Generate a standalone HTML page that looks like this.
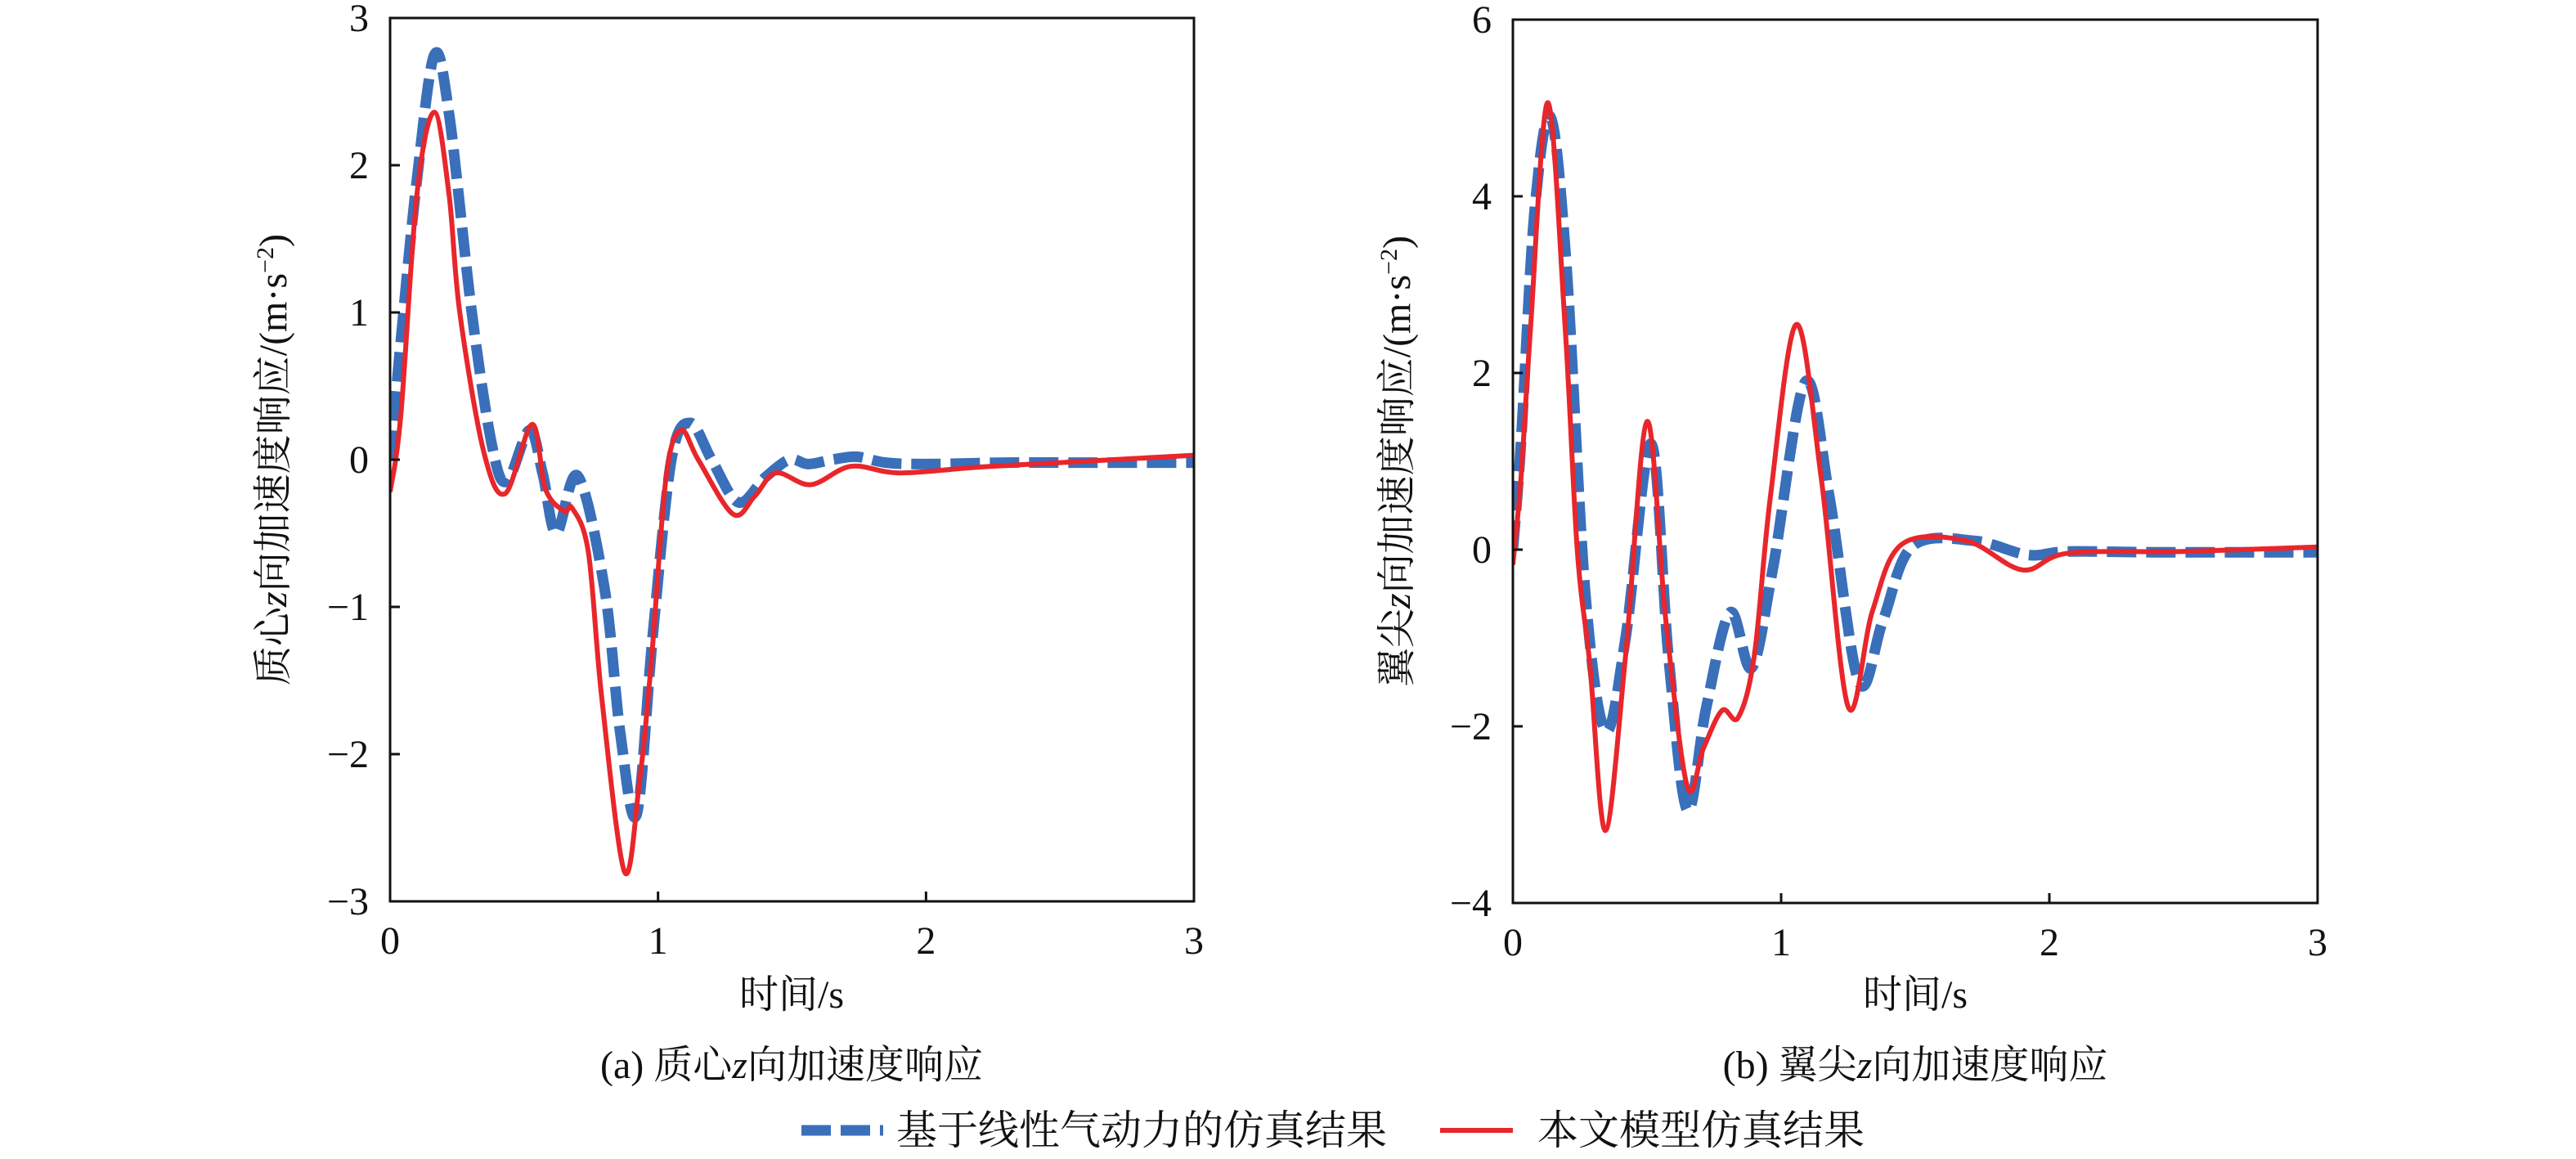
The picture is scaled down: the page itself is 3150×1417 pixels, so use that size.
<!DOCTYPE html>
<html><head><meta charset="utf-8"><style>
html,body{margin:0;padding:0;background:#fff;}
svg{display:block;}
text{font-family:"Liberation Serif","Noto Serif CJK SC","Noto Sans CJK SC",serif;fill:#111;}
</style></head><body>
<svg id="chart" width="3150" height="1417" viewBox="0 0 3150 1417" xmlns="http://www.w3.org/2000/svg">
<g id="pa"></g>
<g id="pb"></g>
<g>
  <line x1="980" y1="1382" x2="1080" y2="1382" stroke="#3a6fba" stroke-width="13" stroke-dasharray="36 12"/>
  <text x="1096" y="1399" font-size="50">基于线性气动力的仿真结果</text>
  <line x1="1761" y1="1382" x2="1850" y2="1382" stroke="#e8262b" stroke-width="6"/>
  <text x="1880" y="1399" font-size="50">本文模型仿真结果</text>
</g>
</svg>
<script>
// Panel (a) data
const aXTicks=[0,1,2,3];
const aYTicks=[-3,-2,-1,0,1,2,3];
const aBlueX=[0,0.05,0.1,0.165,0.22,0.305,0.38,0.435,0.52,0.57,0.62,0.70,0.80,0.86,0.92,0.98,1.05,1.12,1.2,1.30,1.40,1.49,1.56,1.65,1.74,1.85,2.0,2.3,2.6,3.0];
const aBlueY=[0,1.0,1.9,2.75,2.35,1.0,0.1,-0.15,0.2,-0.1,-0.50,-0.11,-0.87,-1.87,-2.41,-1.2,0.0,0.25,0.0,-0.29,-0.12,0.0,-0.03,0.0,0.02,-0.02,-0.03,-0.02,-0.02,-0.02];
const aRedX=[0,0.04,0.1,0.165,0.22,0.26,0.35,0.43,0.53,0.58,0.65,0.68,0.74,0.79,0.875,0.93,0.975,1.03,1.085,1.15,1.28,1.36,1.44,1.57,1.72,1.9,2.2,2.5,3.0];
const aRedY=[-0.22,0.3,1.8,2.36,1.8,1.0,0.05,-0.23,0.24,-0.2,-0.35,-0.33,-0.63,-1.62,-2.80,-2.2,-1.37,-0.12,0.2,0.0,-0.37,-0.25,-0.09,-0.17,-0.045,-0.09,-0.05,-0.02,0.03];
// Panel (b) data
const bXTicks=[0,1,2,3];
const bYTicks=[-4,-2,0,2,4,6];
const bBlueX=[0,0.03,0.08,0.14,0.2,0.27,0.345,0.42,0.515,0.58,0.65,0.72,0.81,0.89,0.97,1.09,1.18,1.29,1.38,1.49,1.72,1.92,2.07,2.4,3.0];
const bBlueY=[0,1.2,3.8,4.9,3.2,-0.5,-2.05,-1.0,1.2,-1.2,-2.95,-1.8,-0.71,-1.34,-0.2,1.9,0.6,-1.5,-0.8,0.04,0.10,-0.06,-0.02,-0.03,-0.03];
const bRedX=[0,0.03,0.065,0.13,0.195,0.24,0.287,0.345,0.42,0.50,0.57,0.65,0.71,0.78,0.84,0.9,0.96,1.057,1.15,1.25,1.34,1.45,1.69,1.90,2.07,2.5,3.0];
const bRedY=[-0.17,0.8,2.47,5.06,2.5,0,-1.3,-3.18,-1.2,1.45,-0.8,-2.68,-2.25,-1.82,-1.90,-1.2,0.6,2.55,0.8,-1.78,-0.7,0.06,0.10,-0.23,-0.04,-0.02,0.03];

const NS='http://www.w3.org/2000/svg';
function mk(tag,attrs,parent){const e=document.createElementNS(NS,tag);for(const k in attrs)e.setAttribute(k,attrs[k]);parent.appendChild(e);return e;}
function path(xs,ys,sx,sy){
  const p=xs.map((x,i)=>[sx(x),sy(ys[i])]);
  let d='M'+p[0][0].toFixed(1)+','+p[0][1].toFixed(1);
  for(let i=0;i<p.length-1;i++){
    const p0=p[Math.max(0,i-1)],p1=p[i],p2=p[i+1],p3=p[Math.min(p.length-1,i+2)];
    const t=6;
    const c1=[p1[0]+(p2[0]-p0[0])/t,p1[1]+(p2[1]-p0[1])/t];
    const c2=[p2[0]-(p3[0]-p1[0])/t,p2[1]-(p3[1]-p1[1])/t];
    c1[0]=Math.min(Math.max(c1[0],p1[0]),p2[0]);c2[0]=Math.min(Math.max(c2[0],p1[0]),p2[0]);
    d+=' C'+c1[0].toFixed(1)+','+c1[1].toFixed(1)+' '+c2[0].toFixed(1)+','+c2[1].toFixed(1)+' '+p2[0].toFixed(1)+','+p2[1].toFixed(1);
  }
  return d;
}
function addParts(t,parts){
  parts.forEach(pt=>{
    const s=mk('tspan',{},t);
    if(pt.i){s.setAttribute('font-style','italic');s.setAttribute('font-family','Liberation Serif, serif');}
    if(pt.sup){s.setAttribute('baseline-shift','super');s.setAttribute('font-size','30');}
    s.textContent=pt.s;
  });
}
function panel(g,L,R,T,B,ymin,ymax,xt,yt,bx,by,rx,ry,titleX,yParts,capParts,cx){
  const sx=x=>L+(x-0)/3*(R-L);
  const sy=y=>B-(y-ymin)/(ymax-ymin)*(B-T);
  const clipId='clip'+g.id;
  const cp=mk('clipPath',{id:clipId},g);mk('rect',{x:L,y:T,width:R-L,height:B-T},cp);
  let e;
  e=mk('path',{d:path(bx,by,sx,sy),fill:'none',stroke:'#3a6fba','stroke-width':13,'stroke-dasharray':'36 12','clip-path':'url(#'+clipId+')'},g);
  
  
  e=mk('path',{d:path(rx,ry,sx,sy),fill:'none',stroke:'#e8262b','stroke-width':6,'stroke-linejoin':'round','clip-path':'url(#'+clipId+')'},g);
  
  
  e=mk('rect',{x:L,y:T,width:R-L,height:B-T,fill:'none',stroke:'#111','stroke-width':3},g);
  
  
  xt.forEach(v=>{
    e=mk('line',{x1:sx(v),x2:sx(v),y1:B,y2:B-12,stroke:'#111','stroke-width':3},g);
    
    
    e=mk('text',{x:sx(v),y:B+64,'font-size':48,'text-anchor':'middle'},g);e.textContent=String(v);
    
    
  });
  yt.forEach(v=>{
    e=mk('line',{x1:L,x2:L+12,y1:sy(v),y2:sy(v),stroke:'#111','stroke-width':3},g);
    
    
    e=mk('text',{x:L-26,y:sy(v)+16,'font-size':48,'text-anchor':'end'},g);e.textContent=v<0?'\u2212'+Math.abs(v):String(v);
    
    
  });
  e=mk('text',{x:cx,y:1232,'font-size':48,'text-anchor':'middle'},g);e.textContent='时间/s';
  
  
  e=mk('text',{x:0,y:0,'font-size':48,'text-anchor':'middle',transform:'translate('+(titleX+16)+','+((T+B)/2)+') rotate(-90)'},g);
  addParts(e,yParts);
  
  
  e=mk('text',{x:cx,y:1318,'font-size':48,'text-anchor':'middle'},g);
  addParts(e,capParts);
  
  
}
const unitParts=[{s:'/(m·s'},{s:'−2',sup:true},{s:')'}];
panel(document.getElementById('pa'),477,1460,22,1102,-3,3,aXTicks,aYTicks,aBlueX,aBlueY,aRedX,aRedY,334,
 [{s:'质心'},{s:'z',i:true},{s:'向加速度响应'}].concat(unitParts),[{s:'(a) 质心'},{s:'z',i:true},{s:'向加速度响应'}],968);
panel(document.getElementById('pb'),1850,2834,24,1104,-4,6,bXTicks,bYTicks,bBlueX,bBlueY,bRedX,bRedY,1708,
 [{s:'翼尖'},{s:'z',i:true},{s:'向加速度响应'}].concat(unitParts),[{s:'(b) 翼尖'},{s:'z',i:true},{s:'向加速度响应'}],2342);
</script>
</body></html>
